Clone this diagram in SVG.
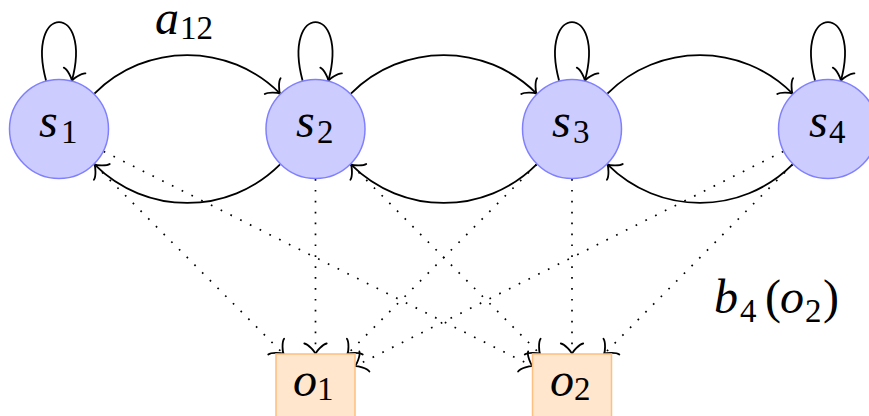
<svg xmlns="http://www.w3.org/2000/svg" width="869" height="416" viewBox="0 0 869 416">
<style>
.state{fill:#ccccff;stroke:#8080ff;stroke-width:1.5}
.obs{fill:#ffe6cc;stroke:#ffbf80;stroke-width:1.5}
text{font-family:'Liberation Serif','Times New Roman',Times,serif;font-size:48px;fill:#000}
.it{font-style:italic}
.sub{font-style:normal;font-size:33px}
.par{font-style:normal;font-size:48px}
.arc{fill:none;stroke:#000;stroke-width:1.8;marker-end:url(#to)}
.dot{fill:none;stroke:#000;stroke-width:1.7;stroke-dasharray:1.7 9.2;marker-end:url(#to)}
</style>
<defs>
<marker id="to" markerUnits="userSpaceOnUse" orient="auto" refX="0" refY="0" markerWidth="30" markerHeight="30" overflow="visible">
<path d="M -10.5,-11.2 C -9.8,-7 -2.1,-0.7 0,0 C -2.1,0.7 -9.8,7 -10.5,11.2" fill="none" stroke="#000" stroke-width="1.8" stroke-dasharray="none" stroke-linecap="round"/>
</marker>
</defs>
<g id="connectors">
<path class="arc" d="M 46.1,80.7 C 25.1,2.5 92.9,2.5 71.9,80.7"/>
<path class="arc" d="M 302.6,80.7 C 281.6,2.5 349.4,2.5 328.4,80.7"/>
<path class="arc" d="M 559.1,80.7 C 538.1,2.5 605.9,2.5 584.9,80.7"/>
<path class="arc" d="M 815.1,80.7 C 794.1,2.5 861.9,2.5 840.9,80.7"/>
<path class="arc" d="M 94.4,93.6 C 145.8,42.2 228.7,42.2 280.1,93.6"/>
<path class="arc" d="M 280.1,164.4 C 228.7,215.8 145.8,215.8 94.4,164.4"/>
<path class="arc" d="M 350.9,93.6 C 402.3,42.2 485.2,42.2 536.6,93.6"/>
<path class="arc" d="M 536.6,164.4 C 485.2,215.8 402.3,215.8 350.9,164.4"/>
<path class="arc" d="M 607.4,93.6 C 658.7,42.3 741.3,42.3 792.6,93.6"/>
<path class="arc" d="M 792.6,164.4 C 741.3,215.7 658.7,215.7 607.4,164.4"/>
<path class="dot" d="M 94.3,164.4 L 283.6,354"/>
<path class="dot" d="M 315.5,179 L 315.5,354"/>
<path class="dot" d="M 536.7,164.4 L 347.4,354"/>
<path class="dot" d="M 783.3,151.4 L 355,366.2"/>
<path class="dot" d="M 103.7,151.4 L 532.5,366.2"/>
<path class="dot" d="M 350.8,164.4 L 540.1,354"/>
<path class="dot" d="M 572,179 L 572,354"/>
<path class="dot" d="M 792.7,164.4 L 604,354"/>
</g>
<g id="s1"><circle class="state" cx="59" cy="129" r="49.5"/><text class="it" x="39" y="137">s<tspan class="sub" x="61" y="143">1</tspan></text></g>
<g id="s2"><circle class="state" cx="315.5" cy="129" r="49.5"/><text class="it" x="296" y="137">s<tspan class="sub" x="317" y="143">2</tspan></text></g>
<g id="s3"><circle class="state" cx="572" cy="129" r="49.5"/><text class="it" x="552" y="137">s<tspan class="sub" x="573" y="143">3</tspan></text></g>
<g id="s4"><circle class="state" cx="828" cy="129" r="49.5"/><text class="it" x="809" y="137">s<tspan class="sub" x="829" y="143">4</tspan></text></g>
<g id="o1"><rect class="obs" x="276" y="354" width="79" height="64"/><text class="it" x="293" y="396">o<tspan class="sub" x="317" y="400">1</tspan></text></g>
<g id="o2"><rect class="obs" x="532.5" y="354" width="79" height="64"/><text class="it" x="550" y="396">o<tspan class="sub" x="574" y="400">2</tspan></text></g>
<g id="label-a12"><text class="it" x="155" y="34">a<tspan class="sub" x="180" y="39">12</tspan></text></g>
<g id="label-b4o2"><text class="it" x="714" y="313">b<tspan class="sub" x="740" y="322">4</tspan><tspan class="par" x="765" y="313">(</tspan><tspan x="780" y="313">o</tspan><tspan class="sub" x="805" y="322">2</tspan><tspan class="par" x="823" y="313">)</tspan></text></g>
</svg>
